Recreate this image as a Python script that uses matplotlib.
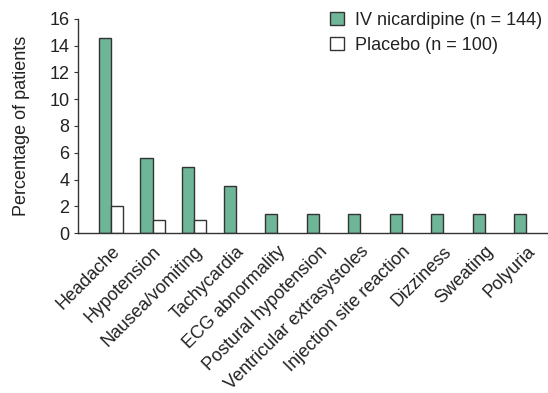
import numpy as np
import matplotlib
matplotlib.use('Agg')
import matplotlib.pyplot as plt

plt.rcParams['font.family'] = ['Liberation Sans', 'DejaVu Sans']
plt.rcParams['font.size'] = 13
plt.rcParams['text.color'] = '#222222'
plt.rcParams['axes.labelcolor'] = '#222222'
plt.rcParams['xtick.color'] = '#222222'
plt.rcParams['ytick.color'] = '#222222'

# ========== 数据 ==========
categories = ['Headache', 'Hypotension', 'Nausea/vomiting', 'Tachycardia',
              'ECG abnormality', 'Postural hypotension', 'Ventricular extrasystoles',
              'Injection site reaction', 'Dizziness', 'Sweating', 'Polyuria']
nicardipine = [14.6, 5.6, 4.9, 3.5, 1.4, 1.4, 1.4, 1.4, 1.4, 1.4, 1.4]
placebo = [2.0, 1.0, 1.0, 0, 0, 0, 0, 0, 0, 0, 0]
y_ticks = [0, 2, 4, 6, 8, 10, 12, 14, 16]

green = '#6fb597'
edge = '#333333'
w = 0.29

fig = plt.figure(figsize=(5.48, 3.93), dpi=100)
ax = fig.add_axes([0.142, 0.407, 0.856, 0.545])

x = np.arange(len(categories))
ax.bar(x - w, nicardipine, width=w, align='edge', color=green,
       edgecolor=edge, linewidth=1.0, label='IV nicardipine (n = 144)')
pl = [v if v > 0 else np.nan for v in placebo]
ax.bar(x, pl, width=w, align='edge', color='white',
       edgecolor=edge, linewidth=1.0, label='Placebo (n = 100)')

ax.set_xlim(-0.8, 10.5)
ax.set_ylim(0, 16)
ax.set_yticks(y_ticks)
ax.set_xticks(x)
ax.set_xticklabels(categories, rotation=45, ha='right', rotation_mode='anchor')
ax.tick_params(axis='x', length=0, pad=7)
ax.tick_params(axis='y', length=3, width=0.8, color=edge, pad=3)
ax.set_ylabel('Percentage of patients', labelpad=14)

for s in ['top', 'right']:
    ax.spines[s].set_visible(False)
for s in ['left', 'bottom']:
    ax.spines[s].set_color(edge)
    ax.spines[s].set_linewidth(1.0)

ax.legend(loc='upper left', bbox_to_anchor=(330 / 548, 1 - 12 / 393),
          bbox_transform=fig.transFigure, frameon=False,
          handlelength=0.75, handleheight=0.75, handletextpad=0.65,
          labelspacing=0.45, borderaxespad=0, borderpad=0)

fig.savefig('out.png', dpi=100)
